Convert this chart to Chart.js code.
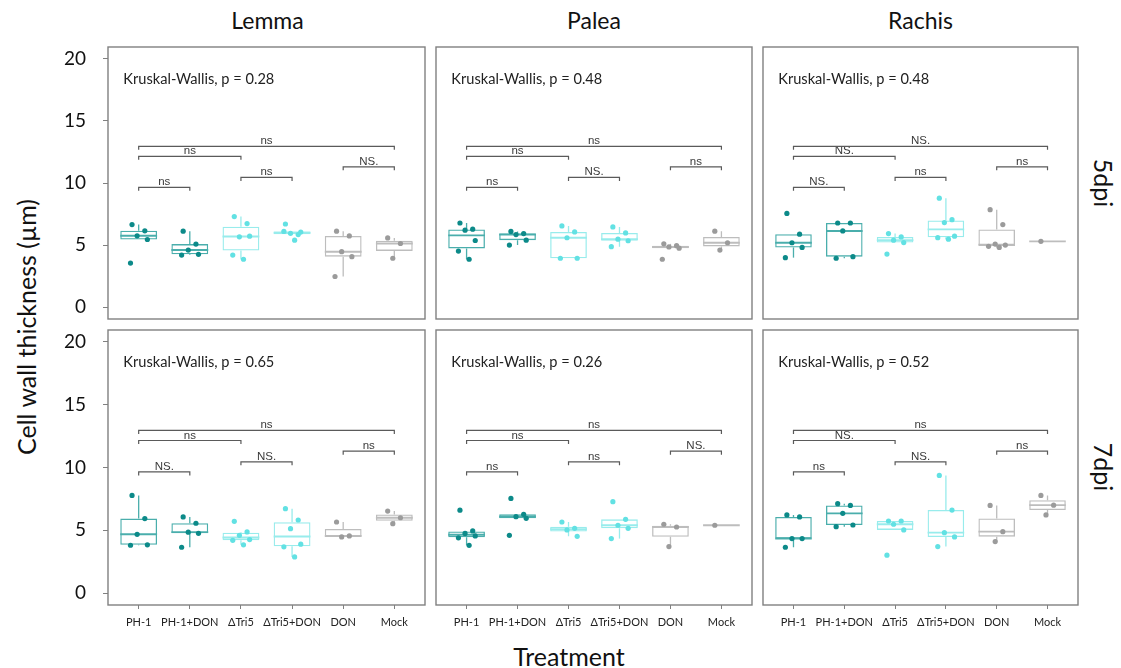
<!DOCTYPE html>
<html>
<head>
<meta charset="utf-8">
<script src="https://cdn.jsdelivr.net/npm/chart.js@4.4.1/dist/chart.umd.min.js"></script>
<style>
  body { margin: 0; background: #fff; }
  #wrap { position: relative; width: 1121px; height: 668px; overflow: hidden; font-family: Lato, "Open Sans", sans-serif; color: #111; }
  .panel { position: absolute; }
  .lbl { position: absolute; white-space: nowrap; transform: translate(-50%, -50%); line-height: 1; }
</style>
</head>
<body>
<div id="wrap"></div>
<script>
const CATEGORIES = ['PH-1', 'PH-1+DON', 'ΔTri5', 'ΔTri5+DON', 'DON', 'Mock'];
const TISSUES = ['Lemma', 'Palea', 'Rachis'];
const TIMEPOINTS = ['5dpi', '7dpi'];
const Y_TICKS = [0, 5, 10, 15, 20];

// cell wall thickness per sample (µm), one list per treatment
const lemma5dpi = [
  [6.65, 6.15, 5.75, 5.45, 3.55],
  [6.12, 5.08, 4.6, 4.26, 4.2],
  [7.3, 6.73, 5.67, 5.72, 4.2, 3.86],
  [6.7, 5.85, 5.95, 6.05, 6.1, 5.4],
  [6.12, 5.74, 4.47, 4.07, 2.47],
  [5.58, 5.13, 3.94]
];
const palea5dpi = [
  [6.78, 6.28, 6.2, 5.37, 4.52, 3.86],
  [6.1, 5.93, 5.85, 5.4, 5.0],
  [6.54, 6.06, 5.59, 3.94, 3.94],
  [6.46, 5.98, 5.48, 5.35, 4.87],
  [5.1, 4.95, 4.85, 4.75, 3.86],
  [6.12, 5.19, 4.6]
];
const rachis5dpi = [
  [7.55, 5.88, 5.19, 4.81, 3.99],
  [6.78, 6.78, 6.14, 4.07, 3.94],
  [5.93, 5.66, 5.4, 5.2, 4.28],
  [8.78, 7.05, 6.81, 5.72, 5.6, 5.48],
  [7.85, 6.65, 5.08, 5.0, 4.9, 4.81],
  [5.3]
];
const lemma7dpi = [
  [7.78, 5.93, 4.68, 3.84, 3.81],
  [6.06, 5.56, 4.85, 4.76, 3.65],
  [5.71, 4.87, 4.6, 4.26, 4.2, 3.84],
  [6.72, 5.82, 5.13, 3.89, 3.68, 2.88],
  [5.66, 4.55, 4.47],
  [6.53, 6.0, 5.53]
];
const palea7dpi = [
  [6.6, 4.95, 4.75, 4.55, 4.4, 3.8],
  [7.54, 6.27, 6.08, 5.95, 4.6],
  [5.66, 5.16, 5.03, 4.52],
  [7.28, 5.87, 5.4, 5.16, 4.34],
  [5.48, 5.26, 3.7],
  [5.4]
];
const rachis7dpi = [
  [6.22, 6.06, 4.34, 4.34, 3.65],
  [7.12, 6.98, 6.35, 5.42, 5.29],
  [5.74, 5.74, 5.48, 5.03, 3.02],
  [9.37, 6.61, 4.81, 4.47, 3.7],
  [6.98, 4.89, 4.1],
  [7.78, 7.0, 6.22]
];

// Kruskal-Wallis p values, per tissue
const kwP5dpi = [0.28, 0.48, 0.48];
const kwP7dpi = [0.65, 0.26, 0.52];

// pairwise comparisons (treatment indices) and the height of their brackets
const BRACKET_PAIRS = [[0, 1], [2, 3], [4, 5], [0, 2], [0, 5]];
const BRACKET_Y = [9.65, 10.45, 11.3, 12.15, 12.95];
const sig5dpi = [
  ['ns', 'ns', 'NS.', 'ns', 'ns'],
  ['ns', 'NS.', 'ns', 'ns', 'ns'],
  ['NS.', 'ns', 'ns', 'NS.', 'NS.']
];
const sig7dpi = [
  ['NS.', 'NS.', 'ns', 'ns', 'ns'],
  ['ns', 'ns', 'NS.', 'ns', 'ns'],
  ['ns', 'NS.', 'ns', 'NS.', 'ns']
];

const PANELS = [[lemma5dpi, palea5dpi, rachis5dpi], [lemma7dpi, palea7dpi, rachis7dpi]];
const KW = [kwP5dpi, kwP7dpi];
const SIG = [sig5dpi, sig7dpi];

// styles
const BOX_STROKE = ['#4aaeac', '#4aaeac', '#98ecec', '#98ecec', '#bdbdbd', '#bdbdbd'];
const POINT_COLOR = ['#0c8a89', '#0c8a89', '#62e1e3', '#62e1e3', '#9b9b9b', '#9b9b9b'];
const JITTER = [-0.13, 0.12, -0.03, 0.17, -0.16, 0.05];
const BOX_WIDTH = 0.72;
const COL_X = [[108, 427], [434, 754], [761, 1080]];
const ROW_Y = [[45, 321], [328, 605]];

const wrap = document.getElementById('wrap');

function quantile(s, p) {
  const h = (s.length - 1) * p, lo = Math.floor(h);
  return lo + 1 < s.length ? s[lo] + (h - lo) * (s[lo + 1] - s[lo]) : s[lo];
}

function boxStats(vals) {
  const s = vals.slice().sort((a, b) => a - b);
  const q1 = quantile(s, 0.25), med = quantile(s, 0.5), q3 = quantile(s, 0.75);
  const iqr = q3 - q1;
  const inside = s.filter(v => v >= q1 - 1.5 * iqr && v <= q3 + 1.5 * iqr);
  return { lo: inside[0], q1, med, q3, hi: inside[inside.length - 1] };
}

function addLabel(text, x, y, size, rotate) {
  const d = document.createElement('div');
  d.className = 'lbl';
  d.textContent = text;
  d.style.left = x + 'px';
  d.style.top = y + 'px';
  d.style.fontSize = size + 'px';
  if (rotate) d.style.transform = `translate(-50%, -50%) rotate(${rotate}deg)`;
  wrap.appendChild(d);
}

function makePanel(row, col) {
  const groups = PANELS[row][col];
  const stats = groups.map(boxStats);
  const [x0, x1] = COL_X[col];
  const [y0, y1] = ROW_Y[row];
  const showY = col === 0, showX = row === 1;
  const yAxisW = 58, xAxisH = 30;
  const left = showY ? x0 - yAxisW : x0 - 2;
  const top = y0 - 2;
  const width = x1 + 2 - left;
  const height = showX ? y1 + xAxisH - top : y1 + 2 - top;

  const canvas = document.createElement('canvas');
  canvas.className = 'panel';
  canvas.width = width;
  canvas.height = height;
  canvas.style.left = left + 'px';
  canvas.style.top = top + 'px';
  canvas.style.width = width + 'px';
  canvas.style.height = height + 'px';
  wrap.appendChild(canvas);

  const decor = {
    id: 'decor',
    beforeDatasetsDraw(chart) {
      const { ctx, scales: { x, y } } = chart;
      ctx.save();
      stats.forEach((st, i) => {
        const cx = x.getPixelForValue(i);
        const xa = x.getPixelForValue(i - BOX_WIDTH / 2);
        const xb = x.getPixelForValue(i + BOX_WIDTH / 2);
        ctx.strokeStyle = BOX_STROKE[i];
        ctx.lineWidth = 1.3;
        ctx.beginPath();
        ctx.moveTo(cx, y.getPixelForValue(st.q3));
        ctx.lineTo(cx, y.getPixelForValue(st.hi));
        ctx.moveTo(cx, y.getPixelForValue(st.q1));
        ctx.lineTo(cx, y.getPixelForValue(st.lo));
        ctx.stroke();
        ctx.lineWidth = 1.9;
        ctx.beginPath();
        ctx.moveTo(xa, y.getPixelForValue(st.med));
        ctx.lineTo(xb, y.getPixelForValue(st.med));
        ctx.stroke();
      });
      ctx.restore();
    },
    afterDraw(chart) {
      const { ctx, chartArea: a, scales: { x, y } } = chart;
      ctx.save();
      ctx.strokeStyle = '#808080';
      ctx.lineWidth = 1.4;
      ctx.strokeRect(a.left, a.top, a.right - a.left, a.bottom - a.top);

      ctx.fillStyle = '#222';
      ctx.font = '14.6px Lato, sans-serif';
      ctx.textAlign = 'left';
      ctx.textBaseline = 'middle';
      ctx.fillText('Kruskal-Wallis, p = ' + KW[row][col].toFixed(2), x.getPixelForValue(-0.3), y.getPixelForValue(18.35));

      ctx.strokeStyle = '#5a5a5a';
      ctx.lineWidth = 1.2;
      ctx.font = '11.5px "Liberation Sans", Arial, sans-serif';
      ctx.textAlign = 'center';
      ctx.textBaseline = 'alphabetic';
      ctx.fillStyle = '#3a3a3a';
      BRACKET_PAIRS.forEach(([p, q], k) => {
        const pa = x.getPixelForValue(p), pb = x.getPixelForValue(q);
        const py = y.getPixelForValue(BRACKET_Y[k]);
        const pd = y.getPixelForValue(BRACKET_Y[k] - 0.28);
        ctx.beginPath();
        ctx.moveTo(pa, pd);
        ctx.lineTo(pa, py);
        ctx.lineTo(pb, py);
        ctx.lineTo(pb, pd);
        ctx.stroke();
        ctx.fillText(SIG[row][col][k], (pa + pb) / 2, py - 2);
      });
      ctx.restore();
    }
  };

  const datasets = [{
    type: 'bar',
    data: stats.map((st, i) => ({ x: i, y: [st.q1, st.q3] })),
    backgroundColor: 'rgba(0,0,0,0)',
    borderColor: BOX_STROKE,
    borderWidth: 1.3,
    borderSkipped: false,
    barPercentage: BOX_WIDTH,
    categoryPercentage: 1,
    order: 2
  }];
  groups.forEach((vals, i) => {
    datasets.push({
      type: 'scatter',
      data: vals.map((v, j) => ({ x: i + JITTER[j % JITTER.length], y: v })),
      backgroundColor: POINT_COLOR[i],
      borderWidth: 0,
      pointRadius: 2.6,
      order: 1
    });
  });

  new Chart(canvas, {
    type: 'bar',
    data: { datasets },
    plugins: [decor],
    options: {
      responsive: false,
      animation: false,
      layout: { padding: { left: showY ? 0 : 2, right: 2, top: 2, bottom: showX ? 0 : 2 } },
      plugins: { legend: { display: false }, tooltip: { enabled: false } },
      scales: {
        x: {
          type: 'linear',
          min: -0.6,
          max: 5.6,
          offset: false,
          display: showX,
          afterBuildTicks: s => { s.ticks = CATEGORIES.map((_, i) => ({ value: i })); },
          afterFit: s => {
            if (showX) s.height = xAxisH;
            s.paddingLeft = 0;
            s.paddingRight = 0;
          },
          ticks: {
            callback: v => CATEGORIES[v],
            autoSkip: false,
            maxRotation: 0,
            padding: 7,
            color: '#222',
            font: { family: 'Lato, sans-serif', size: 11 }
          },
          grid: { drawOnChartArea: false, offset: false, tickLength: 4, color: '#808080' },
          border: { display: false }
        },
        y: {
          type: 'linear',
          min: -0.95,
          max: 20.95,
          display: showY,
          afterBuildTicks: s => { s.ticks = Y_TICKS.map(v => ({ value: v })); },
          afterFit: s => {
            if (showY) s.width = yAxisW;
            s.paddingTop = 0;
            s.paddingBottom = 0;
          },
          ticks: {
            padding: 17,
            color: '#111',
            font: { family: 'Lato, sans-serif', size: 19 }
          },
          grid: { drawOnChartArea: false, tickLength: 5, color: '#808080' },
          border: { display: false }
        }
      }
    }
  });
}

for (let r = 0; r < 2; r++) {
  for (let c = 0; c < 3; c++) makePanel(r, c);
}

TISSUES.forEach((t, c) => addLabel(t, (COL_X[c][0] + COL_X[c][1]) / 2, 20, 23));
TIMEPOINTS.forEach((t, r) => addLabel(t, 1103, (ROW_Y[r][0] + ROW_Y[r][1]) / 2, 25, 90));
addLabel('Cell wall thickness (µm)', 26, 327, 25, -90);
addLabel('Treatment', 569, 656, 25);
</script>
</body>
</html>
